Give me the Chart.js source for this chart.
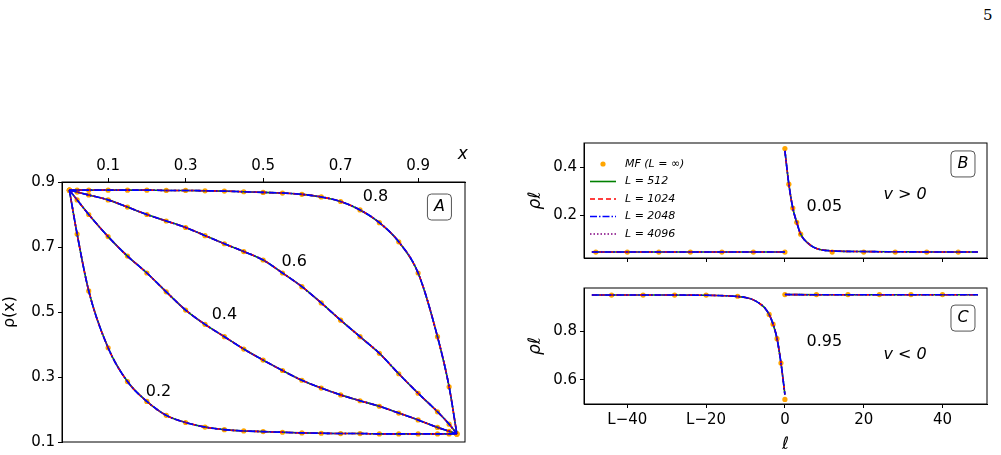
<!DOCTYPE html>
<html><head><meta charset="utf-8">
<script src="https://cdn.jsdelivr.net/npm/chart.js@4"></script>
<style>
body{margin:0;width:1001px;height:455px;background:#fff;position:relative;overflow:hidden;font-family:"DejaVu Sans",sans-serif}
canvas{position:absolute}
#pg{position:absolute;left:983px;top:6px;font:15px "DejaVu Serif",serif}
</style></head><body>
<div id="pg">5</div>
<canvas id="cA" width="480" height="315" style="left:0;top:140px"></canvas>
<canvas id="cB" width="476" height="140" style="left:525px;top:130px"></canvas>
<canvas id="cC" width="476" height="185" style="left:525px;top:270px"></canvas>
<script>
// panel A: density profiles rho(x) for several rates
const xA = [0,0.02,0.05,0.1,0.15,0.2,0.25,0.3,0.35,0.4,0.45,0.5,0.55,0.6,0.65,0.7,0.75,0.8,0.85,0.9,0.95,0.98,1];
const rho02 = [0.875,0.74,0.565,0.39,0.286,0.225,0.182,0.16,0.146,0.138,0.134,0.132,0.130,0.128,0.127,0.126,0.126,0.125,0.125,0.125,0.125,0.125,0.125];
const rho04 = [0.875,0.845,0.80,0.732,0.672,0.62,0.562,0.506,0.462,0.424,0.386,0.352,0.32,0.29,0.266,0.245,0.227,0.21,0.189,0.168,0.145,0.133,0.125];
const rho06 = [0.875,0.869,0.86,0.845,0.823,0.80,0.78,0.76,0.735,0.71,0.686,0.66,0.62,0.578,0.528,0.475,0.424,0.373,0.31,0.25,0.193,0.155,0.125];
const rho08 = [0.875,0.875,0.875,0.875,0.875,0.875,0.874,0.874,0.873,0.872,0.870,0.868,0.866,0.862,0.854,0.84,0.814,0.775,0.716,0.62,0.424,0.27,0.125];
const ticksAx = [0.1,0.3,0.5,0.7,0.9];
const ticksAy = [0.1,0.3,0.5,0.7,0.9];

// panel B (v>0) and C (v<0): site profiles, left part l<0 stands for L-|l|
const lB = [-49,-40,-30,-20,-10,0,null,0,1,2,3,4,6,8,12,20,30,40,49];
const rhoB = [0.045,0.045,0.045,0.045,0.045,0.045,null,0.47,0.33,0.23,0.17,0.12,0.08,0.06,0.05,0.047,0.046,0.045,0.045];
const lBdots = [-48,-40,-32,-24,-16,-8,0,0,1,2,3,4,12,20,28,36,44];
const rhoBdots = [0.045,0.045,0.045,0.045,0.045,0.045,0.045,0.48,0.33,0.23,0.17,0.12,0.045,0.045,0.045,0.045,0.045];
const lC = [-49,-30,-20,-15,-12,-10,-8,-6,-5,-4,-3,-2,-1,0,null,0,10,20,30,40,49];
const rhoC = [0.95,0.95,0.949,0.947,0.944,0.94,0.93,0.91,0.895,0.87,0.83,0.77,0.67,0.54,null,0.952,0.951,0.951,0.951,0.951,0.951];
const lCdots = [-44,-36,-28,-20,-12,-4,-3,-2,-1,0,0,8,16,24,32,40];
const rhoCdots = [0.95,0.95,0.95,0.95,0.945,0.87,0.83,0.77,0.67,0.52,0.952,0.952,0.952,0.952,0.952,0.952];
const ticksL = [-40,-20,0,20,40];

const styles = [
  {borderColor:'green', borderDash:[], order:4},
  {borderColor:'red', borderDash:[5,3], order:3},
  {borderColor:'blue', borderDash:[7,2,1.5,2], order:1},
  {borderColor:'purple', borderDash:[1.5,2], order:2}
];
const FONT = '"DejaVu Sans", sans-serif';
Chart.defaults.font.family = FONT;
Chart.defaults.color = '#000';
Chart.defaults.animation = false;

function pts(xs, ys) { return xs.map((x, i) => ({x: x, y: ys[i]})); }
function series(xs, ys, dx, dy) {
  const out = [{type:'scatter', order:5, data: pts(dx, dy), pointRadius:2.6, pointBackgroundColor:'orange', pointBorderWidth:0, showLine:false}];
  styles.forEach(s => out.push({type:'line', order:s.order, data: pts(xs, ys), borderColor:s.borderColor, borderDash:s.borderDash,
    borderWidth:1.6, pointRadius:0, cubicInterpolationMode:'monotone', spanGaps:false, fill:false}));
  return out;
}
function boxPlugin(texts, boxLabel) {
  return {
    id: 'deco',
    afterDraw(chart) {
      const c = chart.ctx, a = chart.chartArea, sx = chart.scales.x, sy = chart.scales.y;
      c.save();
      c.strokeStyle = '#000'; c.lineWidth = 1; c.setLineDash([]);
      c.strokeRect(a.left, a.top, a.right - a.left, a.bottom - a.top);
      c.fillStyle = '#000'; c.textAlign = 'center'; c.textBaseline = 'middle';
      texts.forEach(t => { c.font = t.f || ('16px ' + FONT); c.fillText(t.s, sx.getPixelForValue(t.x), sy.getPixelForValue(t.y)); });
      if (boxLabel) {
        const px = sx.getPixelForValue(boxLabel.x), py = sy.getPixelForValue(boxLabel.y);
        c.strokeStyle = '#555';
        c.beginPath(); c.roundRect(px - 12, py - 13, 24, 26, 4); c.stroke();
        c.font = 'italic 16px ' + FONT; c.fillText(boxLabel.s, px, py);
      }
      c.restore();
    }
  };
}
function fixTicks(list) { return s => { s.ticks = list.map(v => ({value: v})); }; }

new Chart(document.getElementById('cA'), {
  data: {datasets: [].concat(series(xA, rho02, xA, rho02), series(xA, rho04, xA, rho04), series(xA, rho06, xA, rho06), series(xA, rho08, xA, rho08))},
  options: {
    responsive:false, layout:{padding:{right:15, bottom:13}},
    plugins:{legend:{display:false}, tooltip:{enabled:false}},
    scales:{
      x:{type:'linear', position:'top', min:-0.019, max:1.021, afterBuildTicks:fixTicks(ticksAx), afterFit:s => {s.height = 42;},
         grid:{drawOnChartArea:false, tickLength:4, color:'#000'}, border:{color:'#000'},
         ticks:{font:{size:15}, padding:3, callback:v => v.toFixed(1)},
         title:{display:false}},
      y:{min:0.1, max:0.9, afterBuildTicks:fixTicks(ticksAy), afterFit:s => {s.width = 62;},
         grid:{drawOnChartArea:false, tickLength:4, color:'#000'}, border:{color:'#000'},
         ticks:{font:{size:15}, padding:3, callback:v => v.toFixed(1)},
         title:{display:true, text:'ρ(x)', font:{size:16}, padding:0}}
    }
  },
  plugins:[boxPlugin([
    {s:'0.8', x:0.79, y:0.853}, {s:'0.6', x:0.58, y:0.655}, {s:'0.4', x:0.40, y:0.49},
    {s:'0.2', x:0.23, y:0.253}, {s:'x', x:1.015, y:0.985, f:'italic 17px ' + FONT}
  ], {s:'A', x:0.955, y:0.823})]
});

function lPanel(id, xs, ys, dx, dy, ymin, ymax, yt, isBottom, texts, box, legend) {
  const plugins = [boxPlugin(texts, box)];
  if (legend) plugins.push({
    id:'leg', afterDraw(chart) {
      const c = chart.ctx, a = chart.chartArea;
      const labels = ['MF (L = ∞)', 'L = 512', 'L = 1024', 'L = 2048', 'L = 4096'];
      c.save(); c.font = 'italic 11px ' + FONT; c.textBaseline = 'middle'; c.fillStyle = '#000';
      labels.forEach((t, i) => {
        const y = a.top + 21 + i * 17.5;
        if (i === 0) { c.fillStyle = 'orange'; c.beginPath(); c.arc(a.left + 19, y, 2.6, 0, 7); c.fill(); c.fillStyle = '#000'; }
        else { const s = styles[i - 1]; c.strokeStyle = s.borderColor; c.lineWidth = 1.6; c.setLineDash(s.borderDash);
          c.beginPath(); c.moveTo(a.left + 6, y); c.lineTo(a.left + 32, y); c.stroke(); }
        c.fillText(t, a.left + 41, y);
      });
      c.restore();
    }
  });
  new Chart(document.getElementById(id), {
    data:{datasets: series(xs, ys, dx, dy)},
    options:{
      responsive:false, layout:{padding:{right:14, top: isBottom ? 18 : 13}},
      plugins:{legend:{display:false}, tooltip:{enabled:false}},
      scales:{
        x:{type:'linear', min:-51, max:51.3, afterBuildTicks:fixTicks(ticksL), afterFit:s => {s.height = isBottom ? 51 : 11;},
           grid:{drawOnChartArea:false, tickLength:4, color:'#000'}, border:{color:'#000'},
           ticks:{display:isBottom, font:{size:15}, padding:3, callback:v => v < 0 ? 'L−' + (-v) : String(v)},
           title:{display:isBottom, text:'ℓ', font:{size:17, style:'italic'}, padding:0}},
        y:{min:ymin, max:ymax, afterBuildTicks:fixTicks(yt), afterFit:s => {s.width = 59;},
           grid:{drawOnChartArea:false, tickLength:4, color:'#000'}, border:{color:'#000'},
           ticks:{font:{size:15}, padding:3, callback:v => v.toFixed(1)},
           title:{display:true, text:'ρℓ', font:{size:17, style:'italic'}, padding:0}}
      }
    },
    plugins: plugins
  });
}
lPanel('cB', lB, rhoB, lBdots, rhoBdots, 0.02, 0.503, [0.2, 0.4], false,
  [{s:'0.05', x:10, y:0.235}, {s:'v > 0', x:30.5, y:0.285, f:'italic 16px ' + FONT}], {s:'B', x:45.2, y:0.415}, true);
lPanel('cC', lC, rhoC, lCdots, rhoCdots, 0.501, 0.979, [0.6, 0.8], true,
  [{s:'0.95', x:10, y:0.758}, {s:'v < 0', x:30.5, y:0.705, f:'italic 16px ' + FONT}], {s:'C', x:45.2, y:0.855}, false);
</script>
</body></html>
